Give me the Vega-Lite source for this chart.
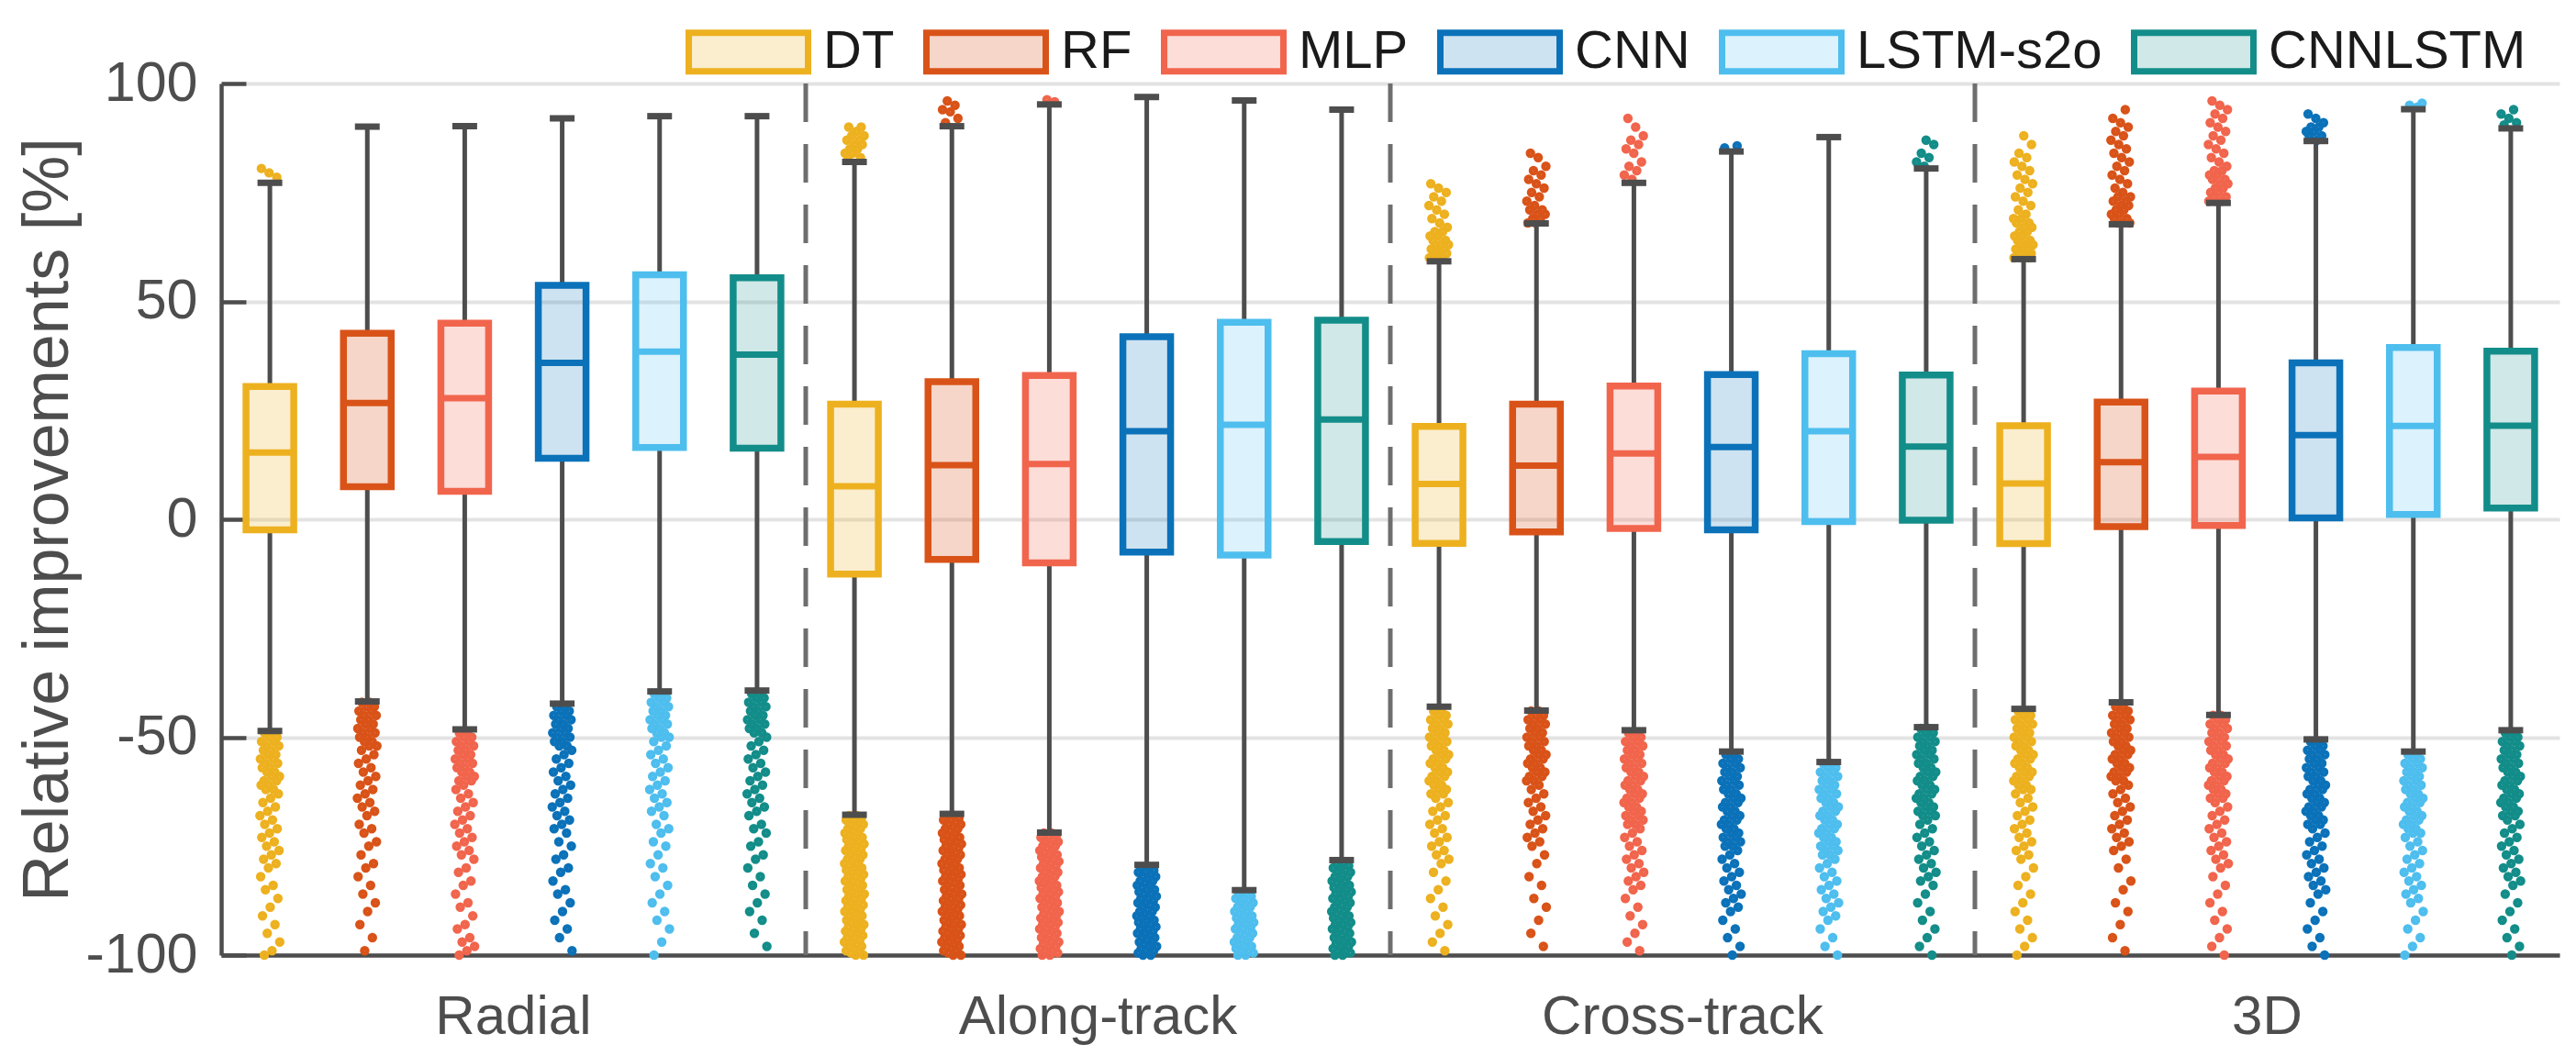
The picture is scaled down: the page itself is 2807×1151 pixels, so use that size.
{
"$schema": "https://vega.github.io/schema/vega-lite/v6.json",
"width": 2548,
"height": 950,
"autosize": {"type": "none"},
"padding": {"left": 241, "top": 91, "right": 18, "bottom": 110},
"background": "white",
"config": {
  "view": {"stroke": null},
  "font": "Liberation Sans",
  "axisX": {"labelFontSize": 60, "labelColor": "#4d4d4d", "labelFont": "Liberation Sans", "labelLimit": 800, "domainColor": "#4d4d4d", "domainWidth": 4.5, "grid": false, "ticks": false, "tickSize": 0, "labelPadding": 38, "labelAngle": 0, "labelOverlap": false, "labelBound": false, "labelOffset": 53},
  "axisY": {"grid": true, "gridColor": "#e3e3e3", "gridWidth": 4, "domainColor": "#4d4d4d", "domainWidth": 4.5, "tickColor": "#4d4d4d", "tickWidth": 4.5, "tickSize": -27, "labelPadding": 53, "labelFontSize": 61, "labelColor": "#4d4d4d", "labelFont": "Liberation Sans", "titleFont": "Liberation Sans", "titleFontSize": 70, "titleColor": "#4d4d4d", "titleFontWeight": "normal", "titlePadding": 4}
},
"data": {"values": [
{"g":"Radial","m":"DT","lo":-48.6,"q1":-2.4,"med":15.3,"q3":30.5,"hi":77.2,"out":[-49,-49,-50,-50,-51,-51,-52,-52,-53,-53,-54,-54,-55,-55,-56,-56,-57,-57,-58,-58,-59,-59,-60,-60,-61,-61,-62,-62,-63,-64,-65,-66,-67,-68,-69,-70,-71,-72,-73,-74,-75,-76,-77,-78,-79,-80,-82,-84,-85,-87,-89,-91,-93,-95,-97,-99,-100,78.5,79.5,80.5]},
{"g":"Radial","m":"RF","lo":-41.8,"q1":7.5,"med":26.7,"q3":42.7,"hi":90.1,"out":[-42,-42,-43,-43,-44,-44,-45,-45,-46,-46,-47,-47,-48,-48,-49,-49,-50,-50,-51,-51,-52,-52,-53,-54,-55,-56,-57,-58,-59,-60,-61,-62,-63,-64,-65,-66,-67,-68,-70,-71,-72,-74,-75,-77,-79,-80,-82,-84,-86,-88,-90,-93,-96,-99]},
{"g":"Radial","m":"MLP","lo":-48.2,"q1":6.4,"med":27.8,"q3":45,"hi":90.2,"out":[-49,-49,-50,-50,-51,-51,-52,-52,-53,-53,-54,-54,-55,-55,-56,-56,-57,-57,-58,-58,-59,-59,-60,-60,-61,-62,-63,-64,-65,-66,-67,-68,-69,-70,-71,-72,-73,-74,-75,-76,-77,-78,-80,-81,-83,-84,-86,-88,-89,-91,-93,-94,-96,-97,-98,-99,-100]},
{"g":"Radial","m":"CNN","lo":-42.3,"q1":14,"med":35.9,"q3":53.7,"hi":92,"out":[-43,-43,-44,-44,-45,-45,-46,-46,-47,-47,-48,-48,-49,-49,-50,-50,-51,-51,-52,-52,-53,-54,-55,-56,-57,-58,-59,-60,-61,-62,-63,-64,-65,-66,-67,-68,-69,-70,-71,-72,-74,-75,-77,-78,-80,-81,-83,-85,-86,-88,-90,-92,-94,-96,-99]},
{"g":"Radial","m":"LSTM-s2o","lo":-39.5,"q1":16.5,"med":38.5,"q3":56.1,"hi":92.5,"out":[-40,-40,-41,-41,-42,-42,-43,-43,-44,-44,-45,-45,-46,-46,-47,-47,-48,-48,-49,-49,-50,-50,-51,-52,-53,-54,-55,-56,-57,-58,-59,-60,-61,-62,-63,-64,-65,-66,-67,-68,-70,-71,-72,-74,-75,-77,-79,-80,-82,-84,-86,-88,-90,-92,-94,-97,-100]},
{"g":"Radial","m":"CNNLSTM","lo":-39.3,"q1":16.3,"med":37.8,"q3":55.4,"hi":92.5,"out":[-40,-40,-41,-41,-42,-42,-43,-43,-44,-44,-45,-45,-46,-46,-47,-47,-48,-48,-49,-49,-50,-51,-52,-53,-54,-55,-56,-57,-58,-59,-60,-61,-62,-63,-64,-65,-66,-67,-68,-70,-71,-72,-74,-75,-77,-78,-80,-82,-84,-86,-88,-90,-92,-95,-98]},
{"g":"Along-track","m":"DT","lo":-67.8,"q1":-12.6,"med":7.6,"q3":26.4,"hi":82,"out":[-68,-68,-68.5,-69,-69,-69.5,-70,-70,-70.5,-71,-71,-71.5,-72,-72,-72.5,-73,-73,-73.5,-74,-74,-74.5,-75,-75,-75.5,-76,-76,-76.5,-77,-77,-77.5,-78,-78,-78.5,-79,-79,-79.5,-80,-80,-80.5,-81,-81,-81.5,-82,-82,-82.5,-83,-83,-83.5,-84,-84,-84.5,-85,-85,-85.5,-86,-86,-86.5,-87,-87,-87.5,-88,-88,-88.5,-89,-89,-89.5,-90,-90,-90.5,-91,-91,-91.5,-92,-92,-92.5,-93,-93,-93.5,-94,-94,-94.5,-95,-95,-95.5,-96,-96,-96.5,-97,-97,-97.5,-98,-98,-98.5,-99,-99,-99.5,-100,-100,83,83,84,84,85,85,86,86,87,87,88,88,89,90,90]},
{"g":"Along-track","m":"RF","lo":-67.6,"q1":-9.2,"med":12.4,"q3":31.6,"hi":90.2,"out":[-68,-68,-68.5,-69,-69,-69.5,-70,-70,-70.5,-71,-71,-71.5,-72,-72,-72.5,-73,-73,-73.5,-74,-74,-74.5,-75,-75,-75.5,-76,-76,-76.5,-77,-77,-77.5,-78,-78,-78.5,-79,-79,-79.5,-80,-80,-80.5,-81,-81,-81.5,-82,-82,-82.5,-83,-83,-83.5,-84,-84,-84.5,-85,-85,-85.5,-86,-86,-86.5,-87,-87,-87.5,-88,-88,-88.5,-89,-89,-89.5,-90,-90,-90.5,-91,-91,-91.5,-92,-92,-92.5,-93,-93,-93.5,-94,-94,-94.5,-95,-95,-95.5,-96,-96,-96.5,-97,-97,-97.5,-98,-98,-98.5,-99,-99,-99.5,-100,-100,91,92,93.5,94,95,96]},
{"g":"Along-track","m":"MLP","lo":-71.9,"q1":-10,"med":12.7,"q3":33,"hi":95.2,"out":[-72,-72,-72.5,-73,-73,-73.5,-74,-74,-74.5,-75,-75,-75.5,-76,-76,-76.5,-77,-77,-77.5,-78,-78,-78.5,-79,-79,-79.5,-80,-80,-80.5,-81,-81,-81.5,-82,-82,-82.5,-83,-83,-83.5,-84,-84,-84.5,-85,-85,-85.5,-86,-86,-86.5,-87,-87,-87.5,-88,-88,-88.5,-89,-89,-89.5,-90,-90,-90.5,-91,-91,-91.5,-92,-92,-92.5,-93,-93,-93.5,-94,-94,-94.5,-95,-95,-95.5,-96,-96,-96.5,-97,-97,-97.5,-98,-98,-98.5,-99,-99,-99.5,-100,-100,95.8,96.3]},
{"g":"Along-track","m":"CNN","lo":-79.3,"q1":-7.5,"med":20.2,"q3":41.9,"hi":96.9,"out":[-80,-80,-80.5,-81,-81,-81.5,-82,-82,-82.5,-83,-83,-83.5,-84,-84,-84.5,-85,-85,-85.5,-86,-86,-86.5,-87,-87,-87.5,-88,-88,-88.5,-89,-89,-89.5,-90,-90,-90.5,-91,-91,-91.5,-92,-92,-92.5,-93,-93,-93.5,-94,-94,-94.5,-95,-95,-95.5,-96,-96,-96.5,-97,-97,-97.5,-98,-98,-98.5,-99,-99,-99.5,-100,-100]},
{"g":"Along-track","m":"LSTM-s2o","lo":-85.1,"q1":-8.2,"med":21.7,"q3":45.2,"hi":96.1,"out":[-86,-86,-86.5,-87,-87,-87.5,-88,-88,-88.5,-89,-89,-89.5,-90,-90,-90.5,-91,-91,-91.5,-92,-92,-92.5,-93,-93,-93.5,-94,-94,-94.5,-95,-95,-95.5,-96,-96,-96.5,-97,-97,-97.5,-98,-98,-98.5,-99,-99,-99.5,-100,-100]},
{"g":"Along-track","m":"CNNLSTM","lo":-78.2,"q1":-5.1,"med":22.9,"q3":45.7,"hi":94,"out":[-79,-79,-79.5,-80,-80,-80.5,-81,-81,-81.5,-82,-82,-82.5,-83,-83,-83.5,-84,-84,-84.5,-85,-85,-85.5,-86,-86,-86.5,-87,-87,-87.5,-88,-88,-88.5,-89,-89,-89.5,-90,-90,-90.5,-91,-91,-91.5,-92,-92,-92.5,-93,-93,-93.5,-94,-94,-94.5,-95,-95,-95.5,-96,-96,-96.5,-97,-97,-97.5,-98,-98,-98.5,-99,-99,-99.5,-100,-100]},
{"g":"Cross-track","m":"DT","lo":-43,"q1":-5.5,"med":8.1,"q3":21.3,"hi":59.2,"out":[-44,-44,-45,-45,-46,-46,-47,-47,-48,-48,-49,-49,-50,-50,-51,-51,-52,-52,-53,-53,-54,-54,-55,-55,-56,-56,-57,-57,-58,-58,-59,-59,-60,-60,-61,-61,-62,-62,-63,-63,-64,-65,-66,-67,-68,-69,-70,-71,-72,-73,-74,-75,-76,-77,-78,-79,-81,-83,-85,-87,-89,-91,-93,-95,-97,-99,60,60,60,61,61,61,62,62,62,63,63,64,64,65,65,66,66,67,68,69,70,71,72,73,74,75,76,77]},
{"g":"Cross-track","m":"RF","lo":-43.9,"q1":-2.9,"med":12.3,"q3":26.4,"hi":67.9,"out":[-44,-44,-45,-45,-46,-46,-47,-47,-48,-48,-49,-49,-50,-50,-51,-51,-52,-52,-53,-53,-54,-54,-55,-55,-56,-56,-57,-57,-58,-58,-59,-59,-60,-60,-61,-62,-63,-64,-65,-66,-67,-68,-69,-70,-71,-72,-73,-74,-75,-77,-79,-82,-84,-87,-89,-92,-95,-98,68,68,69,69,70,70,71,71,72,73,74,75,76,77,78,79,80,81,83,84]},
{"g":"Cross-track","m":"MLP","lo":-48.4,"q1":-2.1,"med":15.1,"q3":30.6,"hi":77.2,"out":[-49,-49,-50,-50,-51,-51,-52,-52,-53,-53,-54,-54,-55,-55,-56,-56,-57,-57,-58,-58,-59,-59,-60,-60,-61,-61,-62,-62,-63,-63,-64,-64,-65,-65,-66,-66,-67,-67,-68,-68,-69,-69,-70,-70,-71,-72,-73,-74,-75,-76,-77,-78,-79,-80,-81,-82,-83,-84,-85,-87,-89,-91,-93,-95,-97,-99,78,79,80,81,82,84,85,86,87,88,90,92]},
{"g":"Cross-track","m":"CNN","lo":-53.3,"q1":-2.4,"med":16.6,"q3":33.2,"hi":84.4,"out":[-54,-54,-55,-55,-56,-56,-57,-57,-58,-58,-59,-59,-60,-60,-61,-61,-62,-62,-63,-63,-64,-64,-65,-65,-66,-66,-67,-67,-68,-68,-69,-69,-70,-70,-71,-71,-72,-72,-73,-73,-74,-74,-75,-75,-76,-77,-78,-79,-80,-81,-82,-83,-84,-85,-86,-87,-88,-89,-90,-92,-94,-96,-98,-100,85.2,85.7]},
{"g":"Cross-track","m":"LSTM-s2o","lo":-55.7,"q1":-0.5,"med":20.2,"q3":38,"hi":87.7,"out":[-56,-56,-57,-57,-58,-58,-59,-59,-60,-60,-61,-61,-62,-62,-63,-63,-64,-64,-65,-65,-66,-66,-67,-67,-68,-68,-69,-69,-70,-70,-71,-71,-72,-72,-73,-73,-74,-74,-75,-75,-76,-76,-77,-77,-78,-79,-80,-81,-82,-83,-84,-85,-86,-87,-88,-89,-90,-91,-92,-94,-96,-98,-100]},
{"g":"Cross-track","m":"CNNLSTM","lo":-47.7,"q1":-0.2,"med":16.7,"q3":33.1,"hi":80.5,"out":[-48,-48,-49,-49,-50,-50,-51,-51,-52,-52,-53,-53,-54,-54,-55,-55,-56,-56,-57,-57,-58,-58,-59,-59,-60,-60,-61,-61,-62,-62,-63,-63,-64,-64,-65,-65,-66,-66,-67,-67,-68,-68,-69,-70,-71,-72,-73,-74,-75,-76,-77,-78,-79,-80,-81,-82,-83,-84,-86,-88,-90,-92,-94,-96,-98,-100,81,82,83,84,86,87]},
{"g":"3D","m":"DT","lo":-43.5,"q1":-5.6,"med":8.2,"q3":21.5,"hi":59.7,"out":[-44,-44,-45,-45,-46,-46,-47,-47,-48,-48,-49,-49,-50,-50,-51,-51,-52,-52,-53,-53,-54,-54,-55,-55,-56,-56,-57,-57,-58,-58,-59,-59,-60,-60,-61,-61,-62,-62,-63,-64,-65,-66,-67,-68,-69,-70,-71,-72,-73,-74,-75,-76,-77,-78,-80,-82,-84,-86,-88,-90,-92,-94,-96,-98,-100,60,60,60,61,61,61,62,62,62,63,63,63,64,64,65,65,66,66,67,67,68,68,69,69,70,71,72,73,74,75,76,77,78,79,80,81,82,83,84,86,88]},
{"g":"3D","m":"RF","lo":-42,"q1":-1.7,"med":13.1,"q3":26.9,"hi":67.7,"out":[-43,-43,-44,-44,-45,-45,-46,-46,-47,-47,-48,-48,-49,-49,-50,-50,-51,-51,-52,-52,-53,-53,-54,-54,-55,-55,-56,-56,-57,-57,-58,-58,-59,-59,-60,-60,-61,-62,-63,-64,-65,-66,-67,-68,-69,-70,-71,-72,-73,-74,-75,-76,-78,-80,-83,-85,-88,-90,-93,-96,-99,68,68,68,69,69,70,70,71,71,72,72,73,73,74,74,75,76,77,78,79,80,81,82,83,84,85,86,87,88,89,90,91,92,94]},
{"g":"3D","m":"MLP","lo":-44.9,"q1":-1.4,"med":14.3,"q3":29.4,"hi":72.6,"out":[-45,-45,-46,-46,-47,-47,-48,-48,-49,-49,-50,-50,-51,-51,-52,-52,-53,-53,-54,-54,-55,-55,-56,-56,-57,-57,-58,-58,-59,-59,-60,-60,-61,-61,-62,-62,-63,-63,-64,-64,-65,-66,-67,-68,-69,-70,-71,-72,-73,-74,-75,-76,-77,-78,-79,-80,-82,-84,-86,-88,-90,-92,-94,-96,-98,-100,73,73,73,74,74,75,75,76,76,77,77,78,78,79,79,80,80,81,82,83,84,85,86,87,88,89,90,91,92,93,94,95,96]},
{"g":"3D","m":"CNN","lo":-50.5,"q1":0.3,"med":19.3,"q3":35.9,"hi":86.8,"out":[-51,-51,-52,-52,-53,-53,-54,-54,-55,-55,-56,-56,-57,-57,-58,-58,-59,-59,-60,-60,-61,-61,-62,-62,-63,-63,-64,-64,-65,-65,-66,-66,-67,-67,-68,-68,-69,-69,-70,-70,-71,-72,-73,-74,-75,-76,-77,-78,-79,-80,-81,-82,-83,-84,-85,-86,-88,-90,-92,-94,-96,-98,-100,87,88,88,89,89,90,90,91,92,93]},
{"g":"3D","m":"LSTM-s2o","lo":-53.3,"q1":1.1,"med":21.4,"q3":39.4,"hi":94.1,"out":[-54,-54,-55,-55,-56,-56,-57,-57,-58,-58,-59,-59,-60,-60,-61,-61,-62,-62,-63,-63,-64,-64,-65,-65,-66,-66,-67,-67,-68,-68,-69,-69,-70,-70,-71,-71,-72,-72,-73,-74,-75,-76,-77,-78,-79,-80,-81,-82,-83,-84,-85,-86,-87,-88,-90,-92,-94,-96,-98,-100,94.6,95,95.5]},
{"g":"3D","m":"CNNLSTM","lo":-48.4,"q1":2.6,"med":21.5,"q3":38.6,"hi":89.7,"out":[-49,-49,-50,-50,-51,-51,-52,-52,-53,-53,-54,-54,-55,-55,-56,-56,-57,-57,-58,-58,-59,-59,-60,-60,-61,-61,-62,-62,-63,-63,-64,-64,-65,-65,-66,-66,-67,-67,-68,-68,-69,-70,-71,-72,-73,-74,-75,-76,-77,-78,-79,-80,-81,-82,-83,-84,-86,-88,-90,-92,-94,-96,-98,-100,90.5,91,92,93,94]}
]},
"transform": [{"calculate": "datum.g + '|' + datum.m", "as": "key"}],
"encoding": {
  "x": {
    "field": "key", "type": "nominal",
    "scale": {"domain": ["Radial|DT","Radial|RF","Radial|MLP","Radial|CNN","Radial|LSTM-s2o","Radial|CNNLSTM","Along-track|DT","Along-track|RF","Along-track|MLP","Along-track|CNN","Along-track|LSTM-s2o","Along-track|CNNLSTM","Cross-track|DT","Cross-track|RF","Cross-track|MLP","Cross-track|CNN","Cross-track|LSTM-s2o","Cross-track|CNNLSTM","3D|DT","3D|RF","3D|MLP","3D|CNN","3D|LSTM-s2o","3D|CNNLSTM"], "paddingInner": 0, "paddingOuter": 0},
    "axis": {"title": null, "labelExpr": "indexof(datum.value, '|MLP') >= 0 ? split(datum.value, '|')[0] : ''"}
  }
},
"resolve": {"scale": {"xOffset": "independent"}},
"layer": [
  {
    "transform": [{"filter": "datum.m == 'DT' && datum.g != 'Radial'"}],
    "mark": {"type": "rule", "color": "#6e6e6e", "strokeWidth": 5, "strokeDash": [42, 24]},
    "encoding": {"x": {"field": "key", "type": "nominal", "bandPosition": 0, "axis": {"title": null, "labelExpr": "indexof(datum.value, '|MLP') >= 0 ? split(datum.value, '|')[0] : ''"}}}
  },
  {
    "transform": [
      {"flatten": ["out"]},
      {"window": [{"op": "row_number", "as": "rn"}], "groupby": ["g", "m"]},
      {"calculate": "(datum.rn * 0.6180339887) % 1", "as": "jit"}
    ],
    "mark": {"type": "circle", "filled": false, "size": 24, "strokeWidth": 5.5, "opacity": 1},
    "encoding": {
      "y": {"field": "out", "type": "quantitative", "scale": {"domain": [-100, 100], "nice": false, "zero": false}, "axis": {"title": "Relative improvements [%]"}},
      "xOffset": {"field": "jit", "type": "quantitative", "scale": {"domain": [0, 1], "range": [42, 64]}},
      "stroke": {"field": "m", "type": "nominal", "scale": {"domain": ["DT","RF","MLP","CNN","LSTM-s2o","CNNLSTM"], "range": ["#EDB120","#D95319","#F1654D","#0B72B9","#4EBEEE","#138D89"]}}
    }
  },
  {
    "mark": {"type": "rule", "color": "#4d4d4d", "strokeWidth": 5},
    "encoding": {
      "y": {"field": "q3", "type": "quantitative", "scale": {"domain": [-100, 100], "nice": false, "zero": false}, "axis": {"title": "Relative improvements [%]"}},
      "y2": {"field": "hi"}
    }
  },
  {
    "mark": {"type": "rule", "color": "#4d4d4d", "strokeWidth": 5},
    "encoding": {
      "y": {"field": "lo", "type": "quantitative", "scale": {"domain": [-100, 100], "nice": false, "zero": false}, "axis": {"title": "Relative improvements [%]"}},
      "y2": {"field": "q1"}
    }
  },
  {
    "mark": {"type": "tick", "color": "#4d4d4d", "size": 27, "thickness": 7, "opacity": 1},
    "encoding": {
      "y": {"field": "hi", "type": "quantitative", "scale": {"domain": [-100, 100], "nice": false, "zero": false}, "axis": {"title": "Relative improvements [%]"}}
    }
  },
  {
    "mark": {"type": "tick", "color": "#4d4d4d", "size": 27, "thickness": 7, "opacity": 1},
    "encoding": {
      "y": {"field": "lo", "type": "quantitative", "scale": {"domain": [-100, 100], "nice": false, "zero": false}, "axis": {"title": "Relative improvements [%]"}}
    }
  },
  {
    "mark": {"type": "bar", "width": 52, "strokeWidth": 7.5, "opacity": 1},
    "encoding": {
      "y": {"field": "q1", "type": "quantitative", "scale": {"domain": [-100, 100], "nice": false, "zero": false},
        "axis": {"title": "Relative improvements [%]", "values": [-100, -50, 0, 50, 100], "labelExpr": "'' + datum.value"}},
      "y2": {"field": "q3"},
      "fill": {"field": "m", "type": "nominal", "scale": {"domain": ["DT","RF","MLP","CNN","LSTM-s2o","CNNLSTM"], "range": ["rgba(237,177,32,0.22)","rgba(217,83,25,0.24)","rgba(241,101,77,0.22)","rgba(11,114,185,0.2)","rgba(78,190,238,0.2)","rgba(19,141,137,0.2)"]},
        "legend": {"title": null, "orient": "none", "legendX": 506, "legendY": -103, "direction": "horizontal", "symbolType": "M-1,-0.323H1V0.323H-1Z", "symbolSize": 16900, "symbolStrokeWidth": 7, "symbolOpacity": 1, "labelFontSize": 58, "labelFont": "Liberation Sans", "labelColor": "#1a1a1a", "labelOffset": 13, "columnPadding": 20, "labelLimit": 600, "padding": 0}},
      "stroke": {"field": "m", "type": "nominal", "scale": {"domain": ["DT","RF","MLP","CNN","LSTM-s2o","CNNLSTM"], "range": ["#EDB120","#D95319","#F1654D","#0B72B9","#4EBEEE","#138D89"]},
        "legend": {"title": null, "orient": "none", "legendX": 506, "legendY": -103, "direction": "horizontal", "symbolType": "M-1,-0.323H1V0.323H-1Z", "symbolSize": 16900, "symbolStrokeWidth": 7, "symbolOpacity": 1, "labelFontSize": 58, "labelFont": "Liberation Sans", "labelColor": "#1a1a1a", "labelOffset": 13, "columnPadding": 20, "labelLimit": 600, "padding": 0}}
    }
  },
  {
    "mark": {"type": "tick", "filled": false, "size": 50, "thickness": 1, "strokeWidth": 6, "opacity": 1},
    "encoding": {
      "y": {"field": "med", "type": "quantitative", "scale": {"domain": [-100, 100], "nice": false, "zero": false}, "axis": {"title": "Relative improvements [%]"}},
      "stroke": {"field": "m", "type": "nominal", "scale": {"domain": ["DT","RF","MLP","CNN","LSTM-s2o","CNNLSTM"], "range": ["#EDB120","#D95319","#F1654D","#0B72B9","#4EBEEE","#138D89"]}}
    }
  }
]
}
